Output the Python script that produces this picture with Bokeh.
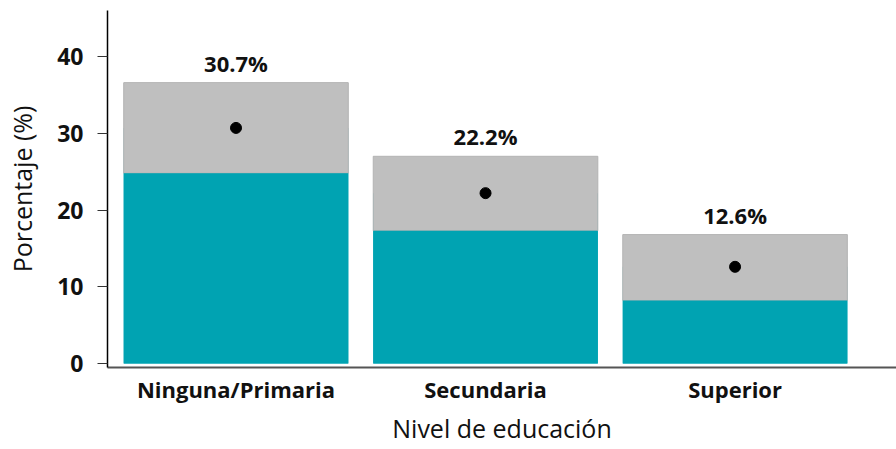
from bokeh.plotting import figure
from bokeh.models import ColumnDataSource, FixedTicker, Range1d
from bokeh.core.properties import value
from bokeh.embed import file_html
from bokeh.resources import INLINE

categorias = ["Ninguna/Primaria", "Secundaria", "Superior"]
estimado = [30.7, 22.2, 12.6]
ic_inf = [24.8, 17.3, 8.2]
ic_sup = [36.6, 27.0, 16.8]
etiquetas = ["30.7%", "22.2%", "12.6%"]
y_ticks = [0, 10, 20, 30, 40]

pos = [i + 1 for i in range(len(categorias))]
src = ColumnDataSource(dict(x=pos, est=estimado, lo=ic_inf, hi=ic_sup, lab=etiquetas))

FONT = "Open Sans"
TEAL = "#00A3B2"
INK = "#111111"

p = figure(width=896, height=449, output_backend="svg", toolbar_location=None,
           x_range=Range1d(0.485, 3.647), y_range=Range1d(-0.52, 46.0))
p.min_border_top = 10
p.min_border_right = 0
p.min_border_left = 107
p.min_border_bottom = 82
p.outline_line_color = None
p.xgrid.visible = False
p.ygrid.visible = False
p.background_fill_color = "white"

p.vbar(x="x", top="est", bottom=0, width=0.9, source=src, fill_color=TEAL, line_color=None)
p.vbar(x="x", top="hi", bottom="lo", width=0.9, source=src, fill_color="#BFBFBF",
       line_color="#B3B3B3", line_width=1)
p.vbar(x="x", top="lo", bottom=0, width=0.9, source=src, fill_color=TEAL, line_color=None)
p.scatter(x="x", y="est", source=src, size=11, color="black")
p.text(x="x", y="hi", text="lab", source=src, text_align="center", text_baseline="bottom",
       y_offset=-5, text_font=value(FONT), text_font_style="bold", text_font_size="22px",
       text_color=INK)

# y axis
ya = p.yaxis[0]
ya.ticker = FixedTicker(ticks=y_ticks)
ya.axis_label = "Porcentaje (%)"
ya.axis_label_text_font = FONT
ya.axis_label_text_font_style = "normal"
ya.axis_label_text_font_size = "25px"
ya.axis_label_text_color = INK
ya.axis_label_standoff = 15
ya.major_label_text_font = FONT
ya.major_label_text_font_style = "bold"
ya.major_label_text_font_size = "23px"
ya.major_label_text_color = INK
ya.major_label_standoff = 14
ya.major_tick_out = 10
ya.major_tick_in = 0
ya.major_tick_line_color = "#333333"
ya.minor_tick_line_color = None
ya.axis_line_color = "black"
ya.axis_line_width = 1.5

# x axis
xa = p.xaxis[0]
xa.ticker = FixedTicker(ticks=pos)
xa.major_label_overrides = {pos[i]: categorias[i] for i in range(len(pos))}
xa.axis_label = "Nivel de educación"
xa.axis_label_text_font = FONT
xa.axis_label_text_font_style = "normal"
xa.axis_label_text_font_size = "25px"
xa.axis_label_text_color = INK
xa.axis_label_standoff = 4
xa.major_label_text_font = FONT
xa.major_label_text_font_style = "bold"
xa.major_label_text_font_size = "22px"
xa.major_label_text_color = INK
xa.major_label_standoff = 6
xa.major_tick_line_color = None
xa.major_tick_out = 0
xa.major_tick_in = 0
xa.minor_tick_line_color = None
xa.axis_line_color = "#555555"
xa.axis_line_width = 2

open("out.html", "w").write(file_html(p, INLINE))
